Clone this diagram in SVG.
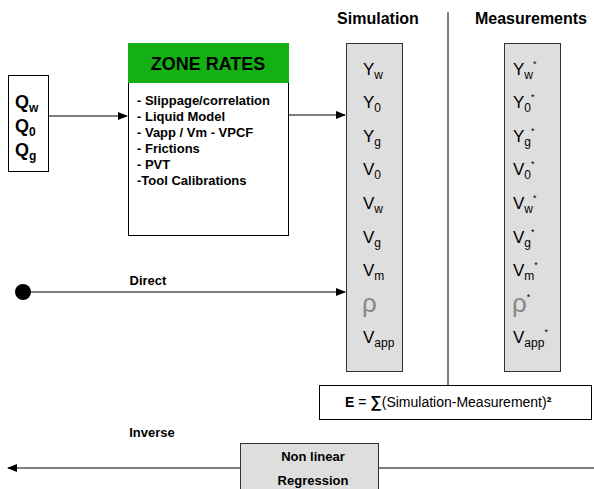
<svg xmlns="http://www.w3.org/2000/svg" width="594" height="489" viewBox="0 0 594 489">
<defs>
<marker id="ah" markerWidth="10" markerHeight="8" refX="9" refY="4" orient="auto" markerUnits="userSpaceOnUse"><path d="M0,0 L10,4 L0,8 Z" fill="#000"/></marker>
<style>
text{font-family:"Liberation Sans",Arial,sans-serif;fill:#000}
.b{font-weight:bold}
.v{font-size:17px}
.s{font-size:12px}
.st{font-size:9px}
.box{fill:#fff;stroke:#000;stroke-width:1}
.gbox{fill:#dedede;stroke:#333;stroke-width:1}
.ln{stroke:#000;stroke-width:1.2;fill:none}
</style>
</defs>
<rect width="594" height="489" fill="#fff"/>
<g id="connectors">
<line class="ln" x1="48" y1="116" x2="127" y2="116" marker-end="url(#ah)"/>
<line class="ln" x1="288" y1="115" x2="345" y2="115" marker-end="url(#ah)"/>
<line class="ln" x1="23" y1="292" x2="345" y2="292" marker-end="url(#ah)"/>
<line class="ln" x1="240" y1="468" x2="8" y2="468" marker-end="url(#ah)"/>
<line class="ln" x1="378" y1="468" x2="594" y2="468"/>
<line x1="448" y1="12" x2="448" y2="385" stroke="#000" stroke-width="1"/>
</g>
<g id="q-node">
<rect class="box" x="8.5" y="75.5" width="40" height="96"/>
<text class="b" x="15" y="108" font-size="18">Q<tspan font-size="12" dy="4">w</tspan></text>
<text class="b" x="15" y="132" font-size="18">Q<tspan font-size="12" dy="4">0</tspan></text>
<text class="b" x="15" y="156" font-size="18">Q<tspan font-size="12" dy="4">g</tspan></text>
</g>
<g id="zone-rates">
<rect class="box" x="128.5" y="43.5" width="160" height="192"/>
<rect x="128" y="43" width="161" height="40" fill="#14b014"/>
<text class="b" x="208" y="70" font-size="18" text-anchor="middle">ZONE RATES</text>
<g class="b" font-size="13">
<text x="137" y="105">- Slippage/correlation</text>
<text x="137" y="121">- Liquid Model</text>
<text x="137" y="137">- Vapp / Vm - VPCF</text>
<text x="137" y="153">- Frictions</text>
<text x="137" y="169">- PVT</text>
<text x="137" y="185">-Tool Calibrations</text>
</g>
</g>
<g id="simulation">
<text class="b" x="378" y="24" font-size="16" text-anchor="middle">Simulation</text>
<rect class="gbox" x="346.5" y="43.5" width="56" height="328"/>
<g class="v">
<text x="363" y="75">Y<tspan class="s" dy="4">w</tspan></text>
<text x="363" y="108">Y<tspan class="s" dy="4">0</tspan></text>
<text x="363" y="142">Y<tspan class="s" dy="4">g</tspan></text>
<text x="363" y="175">V<tspan class="s" dy="4">0</tspan></text>
<text x="363" y="209">V<tspan class="s" dy="4">w</tspan></text>
<text x="363" y="243">V<tspan class="s" dy="4">g</tspan></text>
<text x="363" y="276">V<tspan class="s" dy="4">m</tspan></text>
<text x="362" y="312" font-size="26" style="fill:#888">ρ</text>
<text x="363" y="343">V<tspan class="s" dy="4">app</tspan></text>
</g>
</g>
<g id="measurements">
<text class="b" x="531" y="24" font-size="16" text-anchor="middle">Measurements</text>
<rect class="gbox" x="504.5" y="43.5" width="56" height="328"/>
<g class="v">
<text x="513" y="75">Y<tspan class="s" dy="4">w</tspan><tspan class="st" dy="-12">*</tspan></text>
<text x="513" y="108">Y<tspan class="s" dy="4">0</tspan><tspan class="st" dy="-12">*</tspan></text>
<text x="513" y="142">Y<tspan class="s" dy="4">g</tspan><tspan class="st" dy="-12">*</tspan></text>
<text x="513" y="175">V<tspan class="s" dy="4">0</tspan><tspan class="st" dy="-12">*</tspan></text>
<text x="513" y="209">V<tspan class="s" dy="4">w</tspan><tspan class="st" dy="-12">*</tspan></text>
<text x="513" y="243">V<tspan class="s" dy="4">g</tspan><tspan class="st" dy="-12">*</tspan></text>
<text x="513" y="276">V<tspan class="s" dy="4">m</tspan><tspan class="st" dy="-12">*</tspan></text>
<text x="512" y="312" font-size="26" style="fill:#888">ρ<tspan class="st" dy="-12" style="fill:#000">*</tspan></text>
<text x="513" y="343">V<tspan class="s" dy="4">app</tspan><tspan class="st" dy="-12">*</tspan></text>
</g>
</g>
<g id="error">
<rect class="box" x="319.5" y="385.5" width="272" height="34"/>
<text x="345" y="407" font-size="14"><tspan class="b">E</tspan> = <tspan class="b" font-size="16">∑</tspan>(Simulation-Measurement)<tspan class="b">²</tspan></text>
</g>
<g id="direct">
<circle cx="23" cy="292" r="8" fill="#000"/>
<text class="b" x="148" y="285" font-size="13" text-anchor="middle">Direct</text>
</g>
<g id="inverse">
<text class="b" x="152" y="437" font-size="13" text-anchor="middle">Inverse</text>
</g>
<g id="regression">
<rect class="gbox" x="240.5" y="443.5" width="138" height="50"/>
<text class="b" x="313" y="461" font-size="13" text-anchor="middle">Non linear</text>
<text class="b" x="313" y="485" font-size="13" text-anchor="middle">Regression</text>
</g>
</svg>
